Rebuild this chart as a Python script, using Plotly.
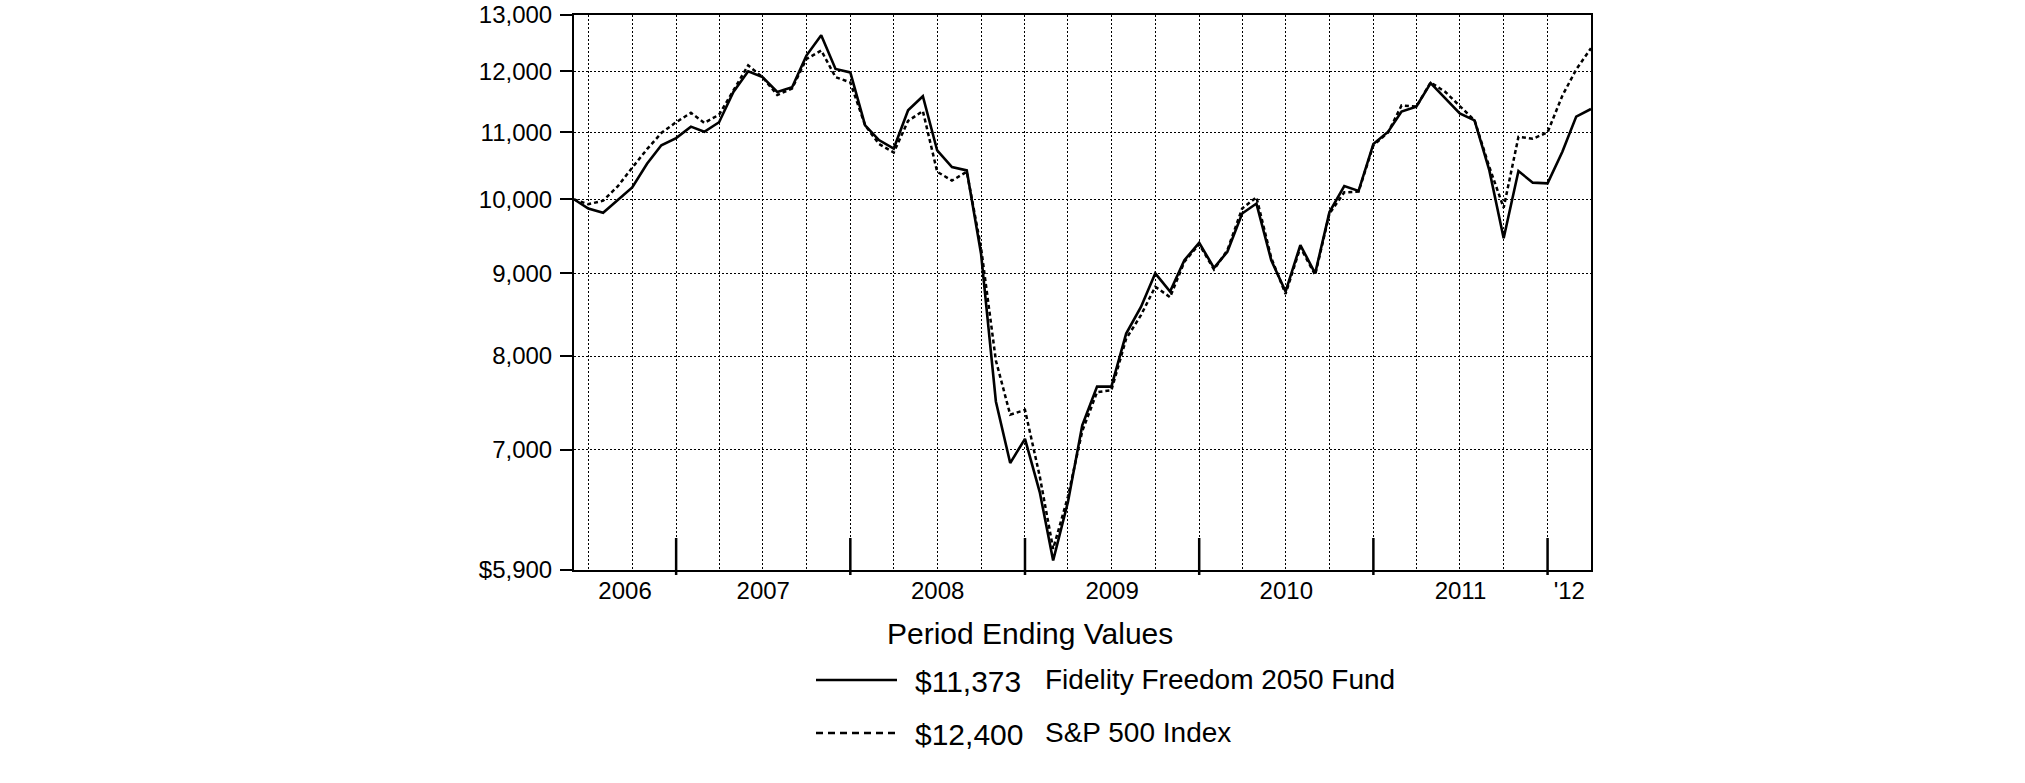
import math
import pandas as pd
import plotly.graph_objects as go

# ---------------- data ----------------
months = pd.date_range("2006-05-31", periods=71, freq="ME")  # period ends

fund = [10000, 9870, 9810, 9990, 10170, 10520, 10800, 10910, 11090, 11010,
        11160, 11650, 12000, 11900, 11650, 11730, 12270, 12630, 12040, 11980,
        11110, 10880, 10750, 11350, 11580, 10720, 10470, 10420, 9250, 7500,
        6870, 7110, 6590, 5980, 6500, 7250, 7660, 7660, 8260, 8580,
        9000, 8770, 9170, 9400, 9070, 9280, 9800, 9940, 9170, 8770,
        9370, 9000, 9820, 10190, 10120, 10820, 11010, 11330, 11410, 11800,
        11550, 11300, 11190, 10420, 9460, 10410, 10240, 10230, 10700, 11250,
        11373]

sp500 = [10000, 9930, 9980, 10190, 10460, 10740, 10990, 11160, 11310, 11150,
         11280, 11675, 12100, 11900, 11600, 11710, 12210, 12360, 11900, 11810,
         11110, 10820, 10690, 11180, 11340, 10400, 10270, 10400, 9330, 7950,
         7360, 7410, 6740, 6080, 6550, 7190, 7600, 7620, 8200, 8480,
         8830, 8700, 9150, 9380, 9050, 9300, 9870, 10030, 9200, 8740,
         9340, 8980, 9800, 10100, 10110, 10800, 11000, 11430, 11410, 11810,
         11650, 11420, 11190, 10470, 9880, 10930, 10900, 11000, 11590, 12030,
         12400]

series_names = ["Fidelity Freedom 2050 Fund", "S&P 500 Index"]

y_ticks = [5900, 7000, 8000, 9000, 10000, 11000, 12000, 13000]
y_labels = ["$5,900", "7,000", "8,000", "9,000", "10,000", "11,000", "12,000", "13,000"]

year_labels = ["2006", "2007", "2008", "2009", "2010", "2011", "'12"]
year_ends = pd.to_datetime(["2006-12-31", "2007-12-31", "2008-12-31",
                            "2009-12-31", "2010-12-31", "2011-12-31"])
quarter_ends = pd.date_range("2006-06-30", "2011-12-31", freq="QE")

legend_title = "Period Ending Values"

# ---------------- derived positions ----------------
bounds = [months[0]] + list(year_ends) + [months[-1]]
year_mids = [bounds[k] + (bounds[k + 1] - bounds[k]) / 2 for k in range(len(bounds) - 1)]

FONT = "Liberation Sans, Arial, sans-serif"
W, H = 2025, 783
OFF = 0                       # page body margin removed via post_script
PL, PT, PWID, PHGT = 574, 15, 1017, 555   # target plot box on screen
ML = PL - OFF
MT = PT - OFF
MR = W - ML - PWID
MB = H - MT - PHGT


def px(xs):
    return (xs - PL) / PWID


def py(ys):
    return (PT + PHGT - ys) / PHGT


fig = go.Figure()
fig.add_trace(go.Scatter(x=months, y=sp500, mode="lines", name=series_names[1],
                         line=dict(color="black", width=2.5, dash="4px,3px"),
                         showlegend=False))
fig.add_trace(go.Scatter(x=months, y=fund, mode="lines", name=series_names[0],
                         line=dict(color="black", width=2.6),
                         showlegend=False))

shapes = []
for d in year_ends:
    shapes.append(dict(type="line", xref="x", yref="paper", x0=d, x1=d,
                       y0=-5 / PHGT, y1=32 / PHGT,
                       line=dict(color="black", width=2.5)))

# legend line samples
shapes.append(dict(type="line", xref="paper", yref="paper",
                   x0=px(816), x1=px(897), y0=py(680), y1=py(680),
                   line=dict(color="black", width=2.6)))
shapes.append(dict(type="line", xref="paper", yref="paper",
                   x0=px(816), x1=px(897), y0=py(733), y1=py(733),
                   line=dict(color="black", width=2.4, dash="7px,5px")))

annotations = [
    dict(text=legend_title, xref="paper", yref="paper", x=px(1030), y=py(633),
         xanchor="center", yanchor="middle", showarrow=False,
         font=dict(family=FONT, size=30, color="black")),
]
for row_y, vals, name in [(681, fund, series_names[0]), (734, sp500, series_names[1])]:
    annotations.append(dict(text=f"${vals[-1]:,}", xref="paper", yref="paper",
                            x=px(913), y=py(row_y), xanchor="left", yanchor="middle",
                            showarrow=False,
                            font=dict(family=FONT, size=30, color="black")))
    annotations.append(dict(text=name, xref="paper", yref="paper",
                            x=px(1043), y=py(row_y - 2), xanchor="left", yanchor="middle",
                            showarrow=False,
                            font=dict(family=FONT, size=28, color="black")))

fig.update_layout(
    width=W, height=H,
    margin=dict(l=ML, r=MR, t=MT, b=MB, pad=0, autoexpand=False),
    paper_bgcolor="white", plot_bgcolor="white",
    showlegend=False,
    font=dict(family=FONT, size=24, color="black"),
    shapes=shapes,
    annotations=annotations,
    xaxis=dict(
        type="date", automargin=False, ticklabeloverflow="allow",
        range=[months[0], months[-1]],
        tickmode="array", tickvals=year_mids, ticktext=year_labels,
        ticks="", ticklen=0, showgrid=False, zeroline=False,
        showline=True, linecolor="black", linewidth=2, mirror=True,
        tickfont=dict(family=FONT, size=24, color="black"),
        ticklabelstandoff=-2,
        minor=dict(tickmode="array", tickvals=quarter_ends, ticks="",
                   showgrid=True, gridcolor="black", gridwidth=1, griddash="2px,2px"),
    ),
    yaxis=dict(
        type="log", automargin=False, ticklabeloverflow="allow",
        range=[math.log10(min(y_ticks)), math.log10(max(y_ticks))],
        tickmode="array", tickvals=y_ticks, ticktext=y_labels,
        ticks="outside", ticklen=12, tickwidth=2, tickcolor="black",
        showgrid=True, gridcolor="black", gridwidth=1, griddash="2px,2px",
        zeroline=False,
        showline=True, linecolor="black", linewidth=2, mirror=True,
        tickfont=dict(family=FONT, size=24, color="black"),
        ticklabelstandoff=3,
    ),
)

fig.write_html("out.html",
               config={"displayModeBar": False},
               post_script="document.body.style.margin='0px';document.body.style.overflow='hidden';")
